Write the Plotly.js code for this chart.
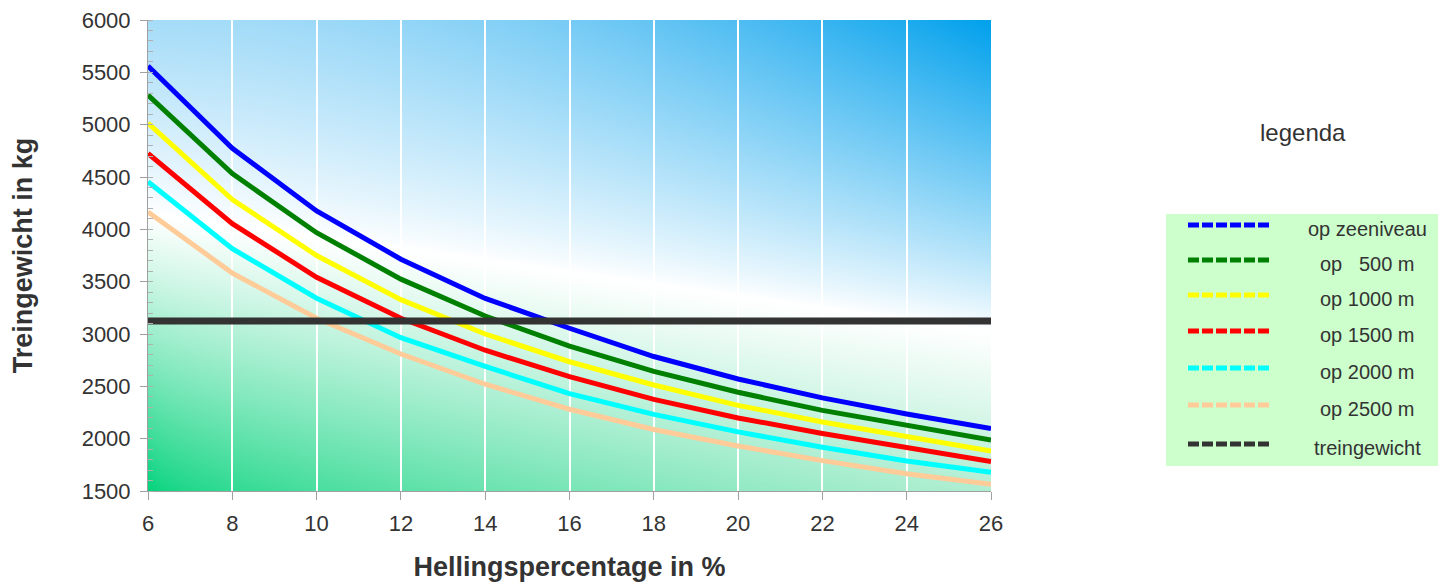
<!DOCTYPE html>
<html>
<head>
<meta charset="utf-8">
<script src="https://cdn.plot.ly/plotly-3.0.1.min.js"></script>
<style>html,body{margin:0;padding:0;background:#fff;}#chart{width:1445px;height:582px;}</style>
</head>
<body>
<div id="chart"></div>
<script>
// ---- data ----
const hellingPct = [6, 8, 10, 12, 14, 16, 18, 20, 22, 24, 26];
const opZeeniveau = [5560, 4775, 4175, 3715, 3340, 3055, 2785, 2570, 2390, 2236, 2097];
const op500 = [5283, 4532, 3968, 3524, 3172, 2885, 2643, 2443, 2270, 2126, 1988];
const op1000 = [5015, 4285, 3750, 3328, 3000, 2735, 2513, 2318, 2160, 2018, 1882];
const op1500 = [4725, 4054, 3542, 3150, 2845, 2592, 2375, 2198, 2050, 1915, 1782];
const op2000 = [4455, 3815, 3342, 2965, 2690, 2430, 2232, 2065, 1918, 1787, 1678];
const op2500 = [4166, 3582, 3150, 2809, 2520, 2281, 2088, 1930, 1790, 1665, 1565];
const treingewicht = [3125, 3125, 3125, 3125, 3125, 3125, 3125, 3125, 3125, 3125, 3125];
const seriesNames = ['op zeeniveau', 'op   500 m', 'op 1000 m', 'op 1500 m', 'op 2000 m', 'op 2500 m', 'treingewicht'];
const seriesColors = ['#0000ff', '#008000', '#ffff00', '#ff0000', '#00ffff', '#ffcc99', '#333333'];
const yTicks = [1500, 2000, 2500, 3000, 3500, 4000, 4500, 5000, 5500, 6000];
const xTicks = [6, 8, 10, 12, 14, 16, 18, 20, 22, 24, 26];

const seriesValues = [opZeeniveau, op500, op1000, op1500, op2000, op2500, treingewicht];

// ---- background gradient image ----
function makeBackground(w, h) {
  const c = document.createElement('canvas');
  c.width = w; c.height = h;
  const ctx = c.getContext('2d');
  const img = ctx.createImageData(w, h);
  const lerp = (a, b, t) => a + (b - a) * t;
  for (let j = 0; j < h; j++) {
    const v = j / (h - 1);
    for (let i = 0; i < w; i++) {
      const u = i / (w - 1);
      const cen = 0.41 + 0.25 * u;
      let col;
      if (v < cen) {
        const d = Math.pow((cen - v) / cen, 0.85);
        const tu = Math.pow(u, 1.8);
        const top = [lerp(165, 0, tu), lerp(220, 160, tu), lerp(248, 236, tu)];
        col = [lerp(255, top[0], d), lerp(255, top[1], d), lerp(255, top[2], d)];
      } else {
        const d = Math.pow((v - cen) / (1 - cen), 1.1);
        const tu = Math.pow(u, 0.55);
        const bot = [lerp(0, 176, tu), lerp(210, 238, tu), lerp(122, 210, tu)];
        col = [lerp(255, bot[0], d), lerp(255, bot[1], d), lerp(255, bot[2], d)];
      }
      const k = (j * w + i) * 4;
      img.data[k] = col[0]; img.data[k + 1] = col[1]; img.data[k + 2] = col[2]; img.data[k + 3] = 255;
    }
  }
  ctx.putImageData(img, 0, 0);
  return c.toDataURL('image/png');
}

// ---- layout geometry (pixels) ----
const W = 1445, H = 582;
const M = {l: 148, r: 454, t: 20, b: 91};
const PW = W - M.l - M.r, PH = H - M.t - M.b;
const px2x = px => (px - M.l) / PW;
const px2y = py => (H - M.b - py) / PH;

const font = '"Liberation Sans", Arial, sans-serif';

const traces = seriesValues.map((vals, i) => ({
  type: 'scatter', mode: 'lines',
  x: hellingPct, y: vals, name: seriesNames[i],
  line: {color: seriesColors[i], width: i === 6 ? 7 : 5},
  showlegend: false, hoverinfo: 'x+y+name'
}));

// custom legend
const shapes = [{
  type: 'rect', xref: 'paper', yref: 'paper',
  x0: px2x(1166), x1: px2x(1438), y0: px2y(466), y1: px2y(214),
  fillcolor: '#ccffcc', line: {width: 0}, layer: 'below'
}];
const annotations = [{
  xref: 'paper', yref: 'paper', x: px2x(1303), y: px2y(133), text: 'legenda',
  showarrow: false, xanchor: 'center', yanchor: 'middle',
  font: {family: font, size: 24, color: '#333333'}
}];
const rowY = [227, 262, 297, 333, 370, 407, 446];
seriesNames.forEach((nm, i) => {
  shapes.push({
    type: 'line', xref: 'paper', yref: 'paper',
    x0: px2x(1188), x1: px2x(1271), y0: px2y(rowY[i] - 2), y1: px2y(rowY[i] - 2),
    line: {color: seriesColors[i], width: 5, dash: '11px,3px'}
  });
  annotations.push({
    xref: 'paper', yref: 'paper', x: px2x(1367), y: px2y(rowY[i] + 2),
    text: nm.replace(/ /g, '\u00a0'), showarrow: false, xanchor: 'center', yanchor: 'middle',
    font: {family: font, size: 20, color: '#333333'}
  });
});

const layout = {
  width: W, height: H,
  margin: M,
  paper_bgcolor: '#ffffff',
  plot_bgcolor: 'rgba(0,0,0,0)',
  showlegend: false,
  font: {family: font, color: '#333333', size: 18},
  images: [{
    source: makeBackground(PW, PH), xref: 'paper', yref: 'paper',
    x: 0, y: 1, sizex: 1, sizey: 1, xanchor: 'left', yanchor: 'top',
    sizing: 'stretch', layer: 'below'
  }],
  xaxis: {
    range: [6, 26], tickvals: xTicks, ticktext: xTicks.map(String),
    showgrid: true, gridcolor: '#ffffff', gridwidth: 2,
    showline: true, linecolor: '#a0a0a0', linewidth: 1,
    ticks: 'outside', ticklen: 8, tickcolor: '#a0a0a0',
    tickfont: {family: font, size: 22, color: '#333333'},
    ticklabelstandoff: 5,
    zeroline: false, automargin: false,
    title: {text: 'Hellingspercentage in %', font: {family: font, size: 27, color: '#333333', weight: 'bold'}, standoff: 23}
  },
  yaxis: {
    range: [1500, 6000], tickvals: yTicks, ticktext: yTicks.map(String),
    showgrid: false,
    showline: true, linecolor: '#a0a0a0', linewidth: 1,
    ticks: 'outside', ticklen: 7, tickcolor: '#a0a0a0',
    minor: {dtick: 100, ticks: 'inside', ticklen: 5, tickcolor: '#b0b0b0', showgrid: false},
    tickfont: {family: font, size: 22, color: '#333333'},
    ticklabelstandoff: 5,
    zeroline: false, automargin: false,
    title: {text: 'Treingewicht in kg', font: {family: font, size: 27, color: '#333333', weight: 'bold'}, standoff: 41}
  },
  shapes: shapes,
  annotations: annotations
};

Plotly.newPlot('chart', traces, layout, {displayModeBar: false, staticPlot: true});
</script>
</body>
</html>
